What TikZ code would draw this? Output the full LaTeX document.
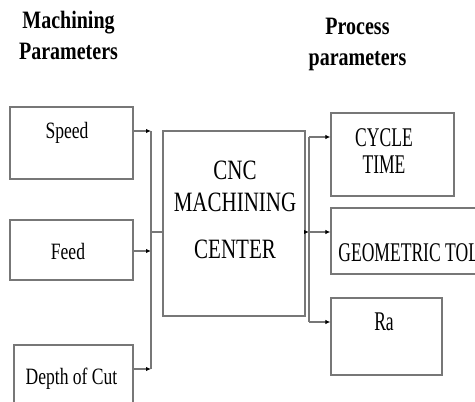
\documentclass[tikz,border=0pt]{standalone}
\usepackage{fontspec}
\setmainfont{Liberation Serif}[FakeStretch=0.75]
\newfontfamily\headfont{Liberation Serif}[FakeStretch=0.8]
\newfontfamily\narrowfont{Liberation Serif}[FakeStretch=0.65]
\usetikzlibrary{arrows.meta}
\definecolor{linegray}{HTML}{777777}

\begin{document}
\begin{tikzpicture}[x=0.5pt,y=-0.5pt,
  box/.style={draw=linegray, line width=0.6pt, inner sep=0pt},
  txt/.style={inner sep=0pt, anchor=base, align=center},
  line/.style={draw=linegray, line width=0.6pt},
  arrow/.style={line, -{Latex[length=2.5pt,width=2.2pt,color=black]}}]

\useasboundingbox (0,0) rectangle (475,401);

% headings (base = last line)
\node[txt, font=\headfont\fontsize{12.5}{15.5}\selectfont\bfseries] (inhead) at (68.5,60) {Machining\\Parameters};
\node[txt, font=\headfont\fontsize{12.5}{15.5}\selectfont\bfseries] (outhead) at (357.5,66) {Process\\parameters};

% machining parameters
\node[box, minimum width=61.5pt, minimum height=36pt] (speed) at (71.5,143) {};
\node[box, minimum width=61.5pt, minimum height=30pt] (feed) at (71.5,250) {};
\node[box, minimum width=59.5pt, minimum height=37.5pt] (depth) at (73.5,382.5) {};
\node[txt, font=\fontsize{11.7}{13}\selectfont] (speedtxt) at (67,138) {Speed};
\node[txt, font=\fontsize{11.7}{13}\selectfont] (feedtxt) at (68,259) {Feed};
\node[txt, font=\fontsize{11.7}{13}\selectfont] (depthtxt) at (71.5,384) {Depth of Cut};

% machine
\node[box, minimum width=71pt, minimum height=92.5pt] (cnc) at (234,223.5) {};
\node[txt, font=\fontsize{14}{16}\selectfont] (cnctxt) at (235,258) {CNC\\MACHINING\\[7.5pt]CENTER};

% process parameters
\node[box, minimum width=61.5pt, minimum height=41.5pt] (cycle) at (392.5,154.5) {};
\node[box, minimum width=84.5pt, minimum height=33pt] (geom) at (415.5,241) {};
\node[box, minimum width=55.5pt, minimum height=38.5pt] (ra) at (386.5,336.5) {};
\node[txt, font=\narrowfont\fontsize{13.5}{13.5}\selectfont] (cycletxt) at (384,173) {CYCLE\\TIME};
\node[txt, anchor=base west, font=\narrowfont\fontsize{13.5}{13.5}\selectfont] (geomtxt) at (338,261) {GEOMETRIC TOL};
\node[txt, font=\narrowfont\fontsize{13.5}{13.5}\selectfont] (ratxt) at (384,330) {Ra};

% input bus
\coordinate (in1) at (151,131);
\coordinate (in2) at (151,251);
\coordinate (in3) at (151,369);
\coordinate (inhub) at (151,232);
\draw[arrow] (speed.east |- in1) -- (in1);
\draw[arrow] (feed.east |- in2) -- (in2);
\draw[arrow] (depth.east |- in3) -- (in3);
\draw[line] (in1) -- (in3);
\draw[line] (inhub) -- (cnc.west |- inhub);

% output bus
\coordinate (out1) at (309,137);
\coordinate (outhub) at (309,232);
\coordinate (out3) at (309,322);
\draw[arrow] (cnc.east |- outhub) -- (outhub);
\draw[line] (out1) -- (out3);
\draw[arrow] (out1) -- (cycle.west |- out1);
\draw[arrow] (outhub) -- (geom.west |- outhub);
\draw[arrow] (out3) -- (ra.west |- out3);

\end{tikzpicture}
\end{document}
